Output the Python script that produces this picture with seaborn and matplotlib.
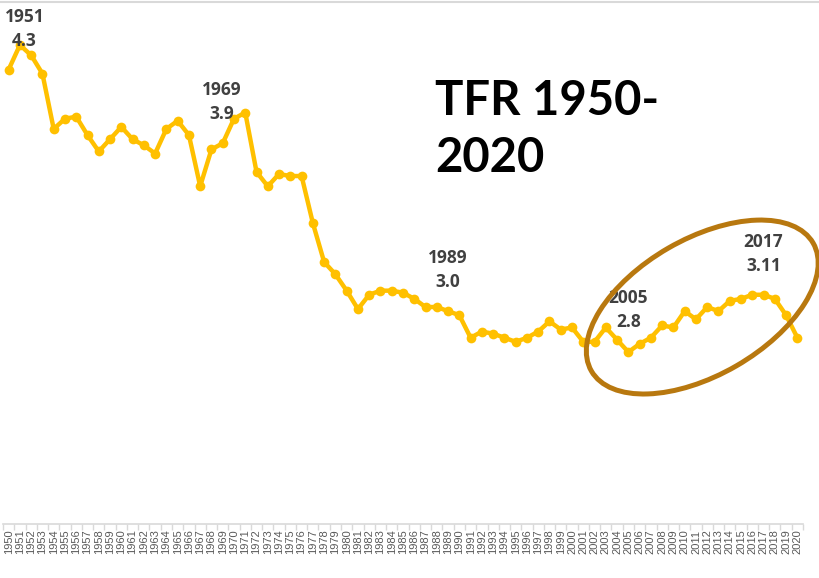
import seaborn as sns
import matplotlib.pyplot as plt
from matplotlib.patches import Ellipse
from matplotlib.transforms import IdentityTransform

# --- data: total fertility rate, 1950-2020 ---
years = list(range(1950, 2021))
tfr = [4.18, 4.30, 4.25, 4.16, 3.89, 3.94, 3.95, 3.86, 3.78, 3.84,
       3.90, 3.84, 3.81, 3.77, 3.89, 3.93, 3.86, 3.61, 3.79, 3.82,
       3.94, 3.97, 3.68, 3.61, 3.67, 3.66, 3.66, 3.43, 3.24, 3.18,
       3.10, 3.01, 3.08, 3.10, 3.10, 3.09, 3.06, 3.02, 3.02, 3.00,
       2.98, 2.87, 2.90, 2.89, 2.87, 2.85, 2.87, 2.90, 2.95, 2.91,
       2.92, 2.85, 2.85, 2.92, 2.86, 2.80, 2.84, 2.87, 2.93, 2.92,
       3.00, 2.96, 3.02, 3.00, 3.05, 3.06, 3.08, 3.08, 3.06, 2.98,
       2.87]

note_years = ["1951", "1969", "1989", "2005", "2017"]
note_values = ["4.3", "3.9", "3.0", "2.8", "3.11"]

sns.set_theme(style="white")
plt.rcParams['font.family'] = ['Liberation Sans', 'DejaVu Sans']

fig = plt.figure(figsize=(8.19, 5.78), dpi=100)
ax = fig.add_axes([3 / 819, 54 / 578, 800 / 819, 524 / 578])

sns.lineplot(x=years, y=tfr, ax=ax, color="#FFC000", linewidth=3.2,
             marker="o", markersize=7, markeredgewidth=0)

ax.set_xlim(1949.5, 2020.5)
ax.set_ylim(1.96, 4.52)
ax.set_yticks([])
ax.set_xticks(years)
ax.set_xticks([y - 0.5 for y in years] + [2020.5], minor=True)
ax.set_xticklabels([str(y) for y in years], rotation=90, fontsize=8,
                   color="#595959")
ax.tick_params(axis="x", which="major", length=0, pad=4)
ax.tick_params(axis="x", which="minor", length=4, color="#D9D9D9", width=1,
               bottom=True)
for side in ["top", "right", "left"]:
    ax.spines[side].set_visible(False)
ax.spines["bottom"].set_color("#D9D9D9")
ax.spines["bottom"].set_linewidth(1.2)
ax.set_xlabel("")
ax.set_ylabel("")

# --- annotations ---
note_xy = [(1951.4, 4.38), (1968.9, 4.02), (1989.0, 3.20),
           (2005.0, 3.005), (2017.0, 3.28)]
for (x, y), yr, val in zip(note_xy, note_years, note_values):
    ax.text(x, y, f"{yr}\n{val}", ha="center", va="center", fontsize=12.5,
            fontweight="bold", color="#404040", linespacing=1.45,
            family=["Open Sans", "DejaVu Sans"])

fig.text(435 / 819, 1 - 79 / 578, "TFR 1950-\n2020", ha="left", va="top",
         fontsize=34, fontweight="bold", color="black", linespacing=1.36,
         family=["Lato", "DejaVu Sans"])

# ellipse around the recent rise, drawn in pixel space
fig.canvas.draw()
cx, cy = ax.transData.transform((2011.56, 3.02))
ring = Ellipse((cx, cy), width=256, height=136, angle=30, fill=False,
               edgecolor="#B8780F", linewidth=3.6, transform=IdentityTransform())
fig.patches.append(ring)

# thin frame line at the very top
fig.add_artist(plt.Line2D([0, 1], [1 - 2 / 578, 1 - 2 / 578],
                          transform=fig.transFigure, color="#D9D9D9", lw=1.5))

fig.savefig("out.png", dpi=100)
